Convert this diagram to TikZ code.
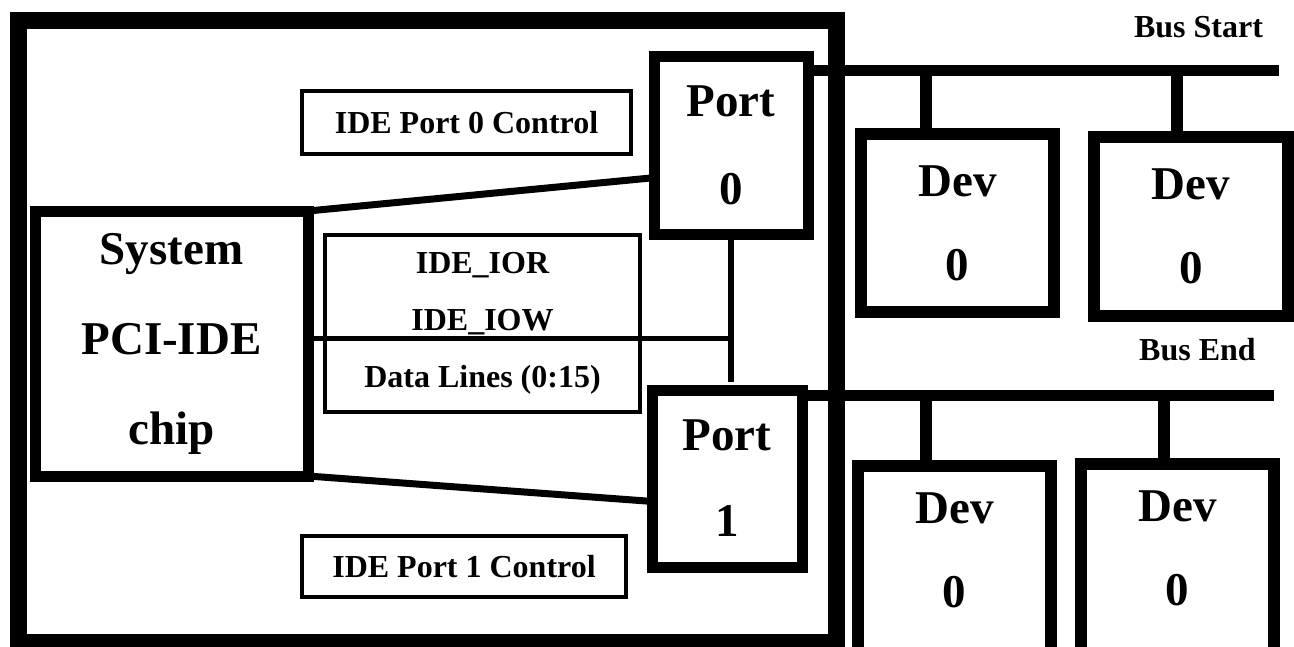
\documentclass[tikz,border=0pt]{standalone}
\usepackage{fontspec}
\setmainfont{Liberation Serif}
\usetikzlibrary{calc}

\begin{document}
\begin{tikzpicture}[x=1pt,y=-1pt,
  box/.style={draw,rectangle,outer sep=0pt,inner sep=0pt,align=center},
  bigfont/.style={font=\fontsize{47}{#1}\selectfont\bfseries},
  smallfont/.style={font=\fontsize{32}{57}\selectfont\bfseries},
  fatbox/.style={box,line width=11pt},
  devbox/.style={box,line width=12pt,minimum width=193pt,bigfont=84},
  thinbox/.style={box,line width=3.5pt,smallfont},
  bus/.style={line width=11pt},
  stub/.style={line width=12pt},
  wire/.style={line width=6pt}]
\useasboundingbox (0,0) rectangle (1294,646);
\clip (0,0) rectangle (1294,646);
% chipset board
\draw[line width=17pt] (18,20) rectangle (836,642);
\node[fatbox,bigfont=90,minimum width=273pt,minimum height=265pt] (sys) at (171.5,343.5) {System\\PCI-IDE\\chip};
\node[fatbox,bigfont=88,minimum width=154pt,minimum height=178pt] (port0) at (731,145) {Port\\0};
\node[fatbox,bigfont=86,minimum width=150pt,minimum height=177pt] (port1) at (727,478.5) {Port\\1};
\node[thinbox,minimum width=329pt,minimum height=63pt] (ctl0) at (466.5,122.5) {IDE Port 0 Control};
\node[thinbox,minimum width=324pt,minimum height=61pt] (ctl1) at (464,566.5) {IDE Port 1 Control};
\node[thinbox,minimum width=315pt,minimum height=177pt] (sig) at (482.5,323.5) {IDE\_IOR\\IDE\_IOW\\Data Lines (0:15)};
% wires inside the chipset
\draw[line width=7pt] (sys.north east) -- (port0.203);
\draw[line width=7pt] (sys.south east) -- (port1.197);
\draw[wire] (port0.south) -- ([yshift=8pt]port0.south |- port1.north);
\draw[line width=5.5pt] (sys.2) -- (sys.2 -| port0.south);
% drives
\node[devbox,minimum height=178pt] (devA) at (957.5,223) {Dev\\0};
\node[devbox,minimum width=194pt,minimum height=179pt] (devB) at (1191,226.5) {Dev\\0};
\node[devbox,minimum height=200pt,text depth=31pt] (devC) at (954.5,566) {Dev\\0};
\node[devbox,minimum height=200pt,text depth=31pt] (devD) at (1177.5,564) {Dev\\0};
% buses
\coordinate (busS) at (1279,71);
\coordinate (busE) at (1274,395);
\draw[bus] (port0.44) -- (port0.44 -| busS);
\draw[bus] (port1.48) -- (port1.48 -| busE);
\path ($(devA.north west)!.337!(devA.north east)$) coordinate (sA)
      ($(devB.north west)!.428!(devB.north east)$) coordinate (sB)
      ($(devC.north west)!.352!(devC.north east)$) coordinate (sC)
      ($(devD.north west)!.43!(devD.north east)$) coordinate (sD);
\draw[stub] (sA) -- (sA |- busS);
\draw[stub] (sB) -- (sB |- busS);
\draw[stub] (sC) -- (sC |- busE);
\draw[stub] (sD) -- (sD |- busE);
\node[smallfont] (start) at (1198.5,27) {Bus Start};
\node[smallfont] (end) at (1197.5,350) {Bus End};
\end{tikzpicture}
\end{document}
